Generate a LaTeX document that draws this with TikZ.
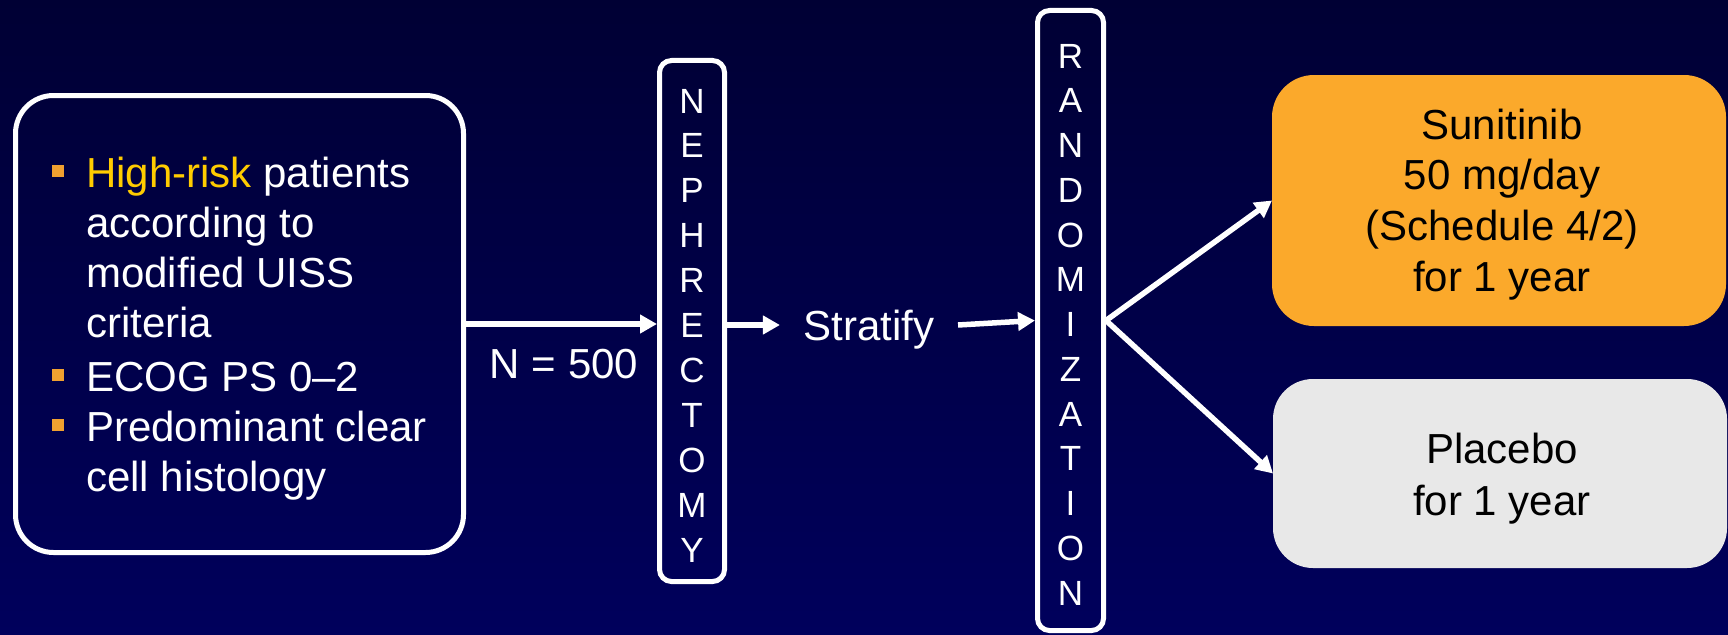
\documentclass[tikz,border=0pt]{standalone}
\usepackage{fontspec}
\setmainfont{Liberation Sans}
\usetikzlibrary{arrows.meta}
\definecolor{bgtop}{RGB}{0,0,52}
\definecolor{bgbot}{RGB}{0,0,92}
\definecolor{hiyellow}{RGB}{255,204,0}
\definecolor{bulorange}{RGB}{240,160,48}
\definecolor{suniorange}{RGB}{251,169,43}
\definecolor{placgray}{RGB}{232,232,232}
\newcommand\bul{\makebox[34pt][l]{\color{bulorange}\rule[10pt]{12pt}{12pt}}}
\newcommand\ind{\hspace*{34pt}}
\begin{document}
\begin{tikzpicture}[x=1pt,y=-1pt,
  outlinebox/.style={draw=white, line width=5pt, rounded corners=#1, inner sep=0pt},
  fillbox/.style={fill=#1, draw=none, inner sep=0pt, outer sep=0pt},
  textnode/.style={text=white, inner sep=0pt, font=\fontsize{42}{50}\selectfont},
  darktext/.style={text=black, inner sep=0pt},
  lettertext/.style={text=white, inner sep=0pt, font=\fontsize{35}{#1}\selectfont},
  arr/.style={draw=white, line width=5.5pt, -{Triangle[length=17pt,width=18pt]}}
]
\fill[top color=bgtop, bottom color=bgbot] (0,0) rectangle (1728,634);
\useasboundingbox (0,0) rectangle (1728,634);

% boxes
\node[outlinebox=38pt, minimum width=448pt, minimum height=457pt] (crit) at (239.5,324) {};
\node[outlinebox=12pt, minimum width=65pt, minimum height=521pt] (neph) at (692,321) {};
\node[outlinebox=12pt, minimum width=66pt, minimum height=620pt] (rand) at (1070.5,320.5) {};
\node[fillbox=suniorange, rounded corners=42pt, minimum width=454pt, minimum height=251pt] (suni) at (1499,200.5) {};
\node[fillbox=placgray, rounded corners=40pt, minimum width=454pt, minimum height=189pt] (plac) at (1500,473.5) {};

% texts
\node[textnode, anchor=base west] (crittext) at (52,187) {\begin{tabular}[t]{@{}l@{}}
\bul\textcolor{hiyellow}{High-risk} patients\\
\ind according to\\
\ind modified UISS\\
\ind criteria\\[4pt]
\bul ECOG PS 0–2\\
\bul Predominant clear\\
\ind cell histology
\end{tabular}};

\node[lettertext=44.9pt, anchor=base] (nephtext) at (692,113) {\begin{tabular}[t]{@{}c@{}}
N\\E\\P\\H\\R\\E\\C\\T\\O\\M\\Y
\end{tabular}};

\node[lettertext=44.75pt, anchor=base] (randtext) at (1070.5,68) {\begin{tabular}[t]{@{}c@{}}
R\\A\\N\\D\\O\\M\\I\\Z\\A\\T\\I\\O\\N
\end{tabular}};

\node[textnode, anchor=base] (n500) at (564,378) {N = 500};
\node[textnode, anchor=base, text height=30pt, text depth=0pt, inner xsep=23.5pt, inner ysep=0pt] (strat) at (869,340) {Stratify};

\node[darktext, anchor=base, font=\fontsize{42}{50.67}\selectfont] (sunitext) at (1502,139) {\begin{tabular}[t]{@{}c@{}}
Sunitinib\\50 mg/day\\(Schedule 4/2)\\for 1 year
\end{tabular}};
\node[darktext, anchor=base, font=\fontsize{42}{52}\selectfont] (plactext) at (1502,463) {\begin{tabular}[t]{@{}c@{}}
Placebo\\for 1 year
\end{tabular}};

% connectors
\draw[arr] (crit.east) -- (crit.east -| neph.west);
\draw[arr] (neph.east |- strat.west) -- (strat.west);
\draw[arr] (strat.east) -- (rand.west);
\draw[arr] (rand.east) -- (suni.west);
\draw[arr] (rand.east) -- (plac.west);
\end{tikzpicture}
\end{document}
